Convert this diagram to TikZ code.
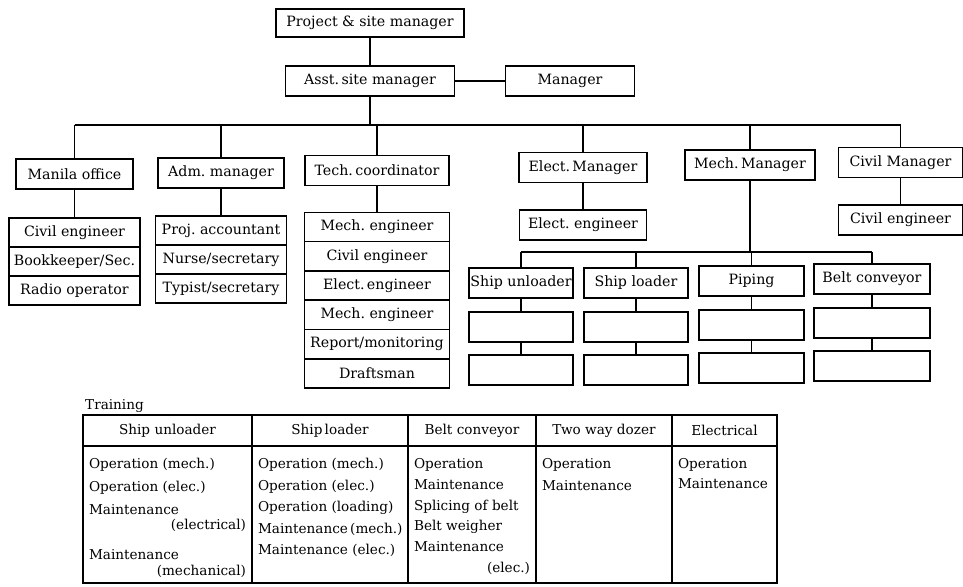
\documentclass[tikz,border=0pt]{standalone}
\usepackage{tikz}
\usepackage{fontspec}
\setmainfont{DejaVu Serif}
\usetikzlibrary{positioning}
\newcommand{\treefont}{\fontsize{14.2}{17}\selectfont}
\newcommand{\tabfont}{\fontsize{13.6}{16}\selectfont}
\newcommand{\tabbody}[3]{\parbox[c][124pt][t]{#1}{\fontsize{13.6}{#2}\selectfont
  \raggedright\rule{0pt}{16pt}#3}}
\tikzset{
  unit/.style={rectangle,draw,line width=1.6pt,inner sep=1pt,outer sep=0pt,
               minimum width=#1,minimum height=30pt,font=\treefont},
  unit/.default=120pt,
  slot/.style={unit=#1,minimum height=29pt},
  link/.style={line width=1.4pt},
  cellhead/.style={rectangle,draw,line width=1.6pt,outer sep=0pt,
                   minimum width=#1,minimum height=31pt,font=\tabfont},
  cellbody/.style={rectangle,draw,line width=1.6pt,outer sep=0pt,
                   inner xsep=6pt,inner ysep=6.5pt},
}
\begin{document}
\begin{tikzpicture}[x=1pt,y=-1pt,node distance=0pt]
  \useasboundingbox (0,0) rectangle (963,586);

  % top of the chart
  \node[unit=188pt,minimum height=28pt] (proj) at (370,23) {Project \& site manager};
  \node[unit=169pt] (asst) at (370,81) {Asst.\,site manager};
  \node[unit=129pt] (mgr) at (570,81) {Manager};

  % second level
  \node[unit=117pt] (manila) at (74.5,174) {Manila office};
  \node[unit=126pt] (adm) at (221,173) {Adm.\ manager};
  \node[unit=144pt] (tech) at (377,170.5) {Tech.\,coordinator};
  \node[unit=128pt] (elec) at (583,167.5) {Elect.\,Manager};
  \node[unit=130pt] (mech) at (750,165) {Mech.\,Manager};
  \node[unit=124pt] (civil) at (900.5,162.5) {Civil Manager};

  \coordinate (bus) at (0,125);
  \draw[link] (asst.east) -- (mgr.west);
  \draw[link] (asst) -- (asst |- bus);
  \draw[link] (manila.north |- bus) -- (civil.north |- bus);
  \foreach \n in {manila,adm,tech,elec,mech,civil}
    \draw[link] (\n.north |- bus) -- (\n.north);

  % staff lists
  \node[slot=131pt] (m1) at (74.5,232.5) {Civil engineer};
  \node[slot=131pt,below=of m1] (m2) {Bookkeeper/Sec.};
  \node[slot=131pt,below=of m2] (m3) {Radio operator};

  \node[slot=131pt] (a1) at (221,230.5) {Proj.\ accountant};
  \node[slot=131pt,below=of a1] (a2) {Nurse/secretary};
  \node[slot=131pt,below=of a2] (a3) {Typist/secretary};

  \node[slot=145pt,minimum height=29.3pt] (t1) at (377,227) {Mech.\ engineer};
  \node[slot=145pt,minimum height=29.3pt,below=of t1] (t2) {Civil engineer};
  \node[slot=145pt,minimum height=29.3pt,below=of t2] (t3) {Elect.\,engineer};
  \node[slot=145pt,minimum height=29.3pt,below=of t3] (t4) {Mech.\ engineer};
  \node[slot=145pt,minimum height=29.3pt,below=of t4] (t5) {Report/monitoring};
  \node[slot=145pt,minimum height=29.3pt,below=of t5] (t6) {Draftsman};

  \node[unit=127pt] (ee) at (583,225) {Elect.\ engineer};
  \node[unit=124pt] (ce) at (900.5,220) {Civil engineer};

  \foreach \a/\b in {proj/asst,manila/m1,adm/a1,tech/t1,elec/ee,civil/ce}
    \draw[link] (\a) -- (\b);

  % mechanical groups
  \coordinate (sub) at (0,252);
  \node[unit=104pt] (su) at (521,283) {Ship unloader};
  \node[unit=104pt] (sl) at (636,283) {Ship loader};
  \node[unit=105pt] (pip) at (751.5,281) {Piping};
  \node[unit=116pt] (bc) at (872,279) {Belt conveyor};
  \draw[link] (mech) -- (mech |- sub);
  \draw[link] (su.north |- sub) -- (bc.north |- sub);
  \foreach \c/\w in {su/104pt,sl/104pt,pip/105pt,bc/116pt} {
    \draw[link] (\c.north |- sub) -- (\c.north);
    \node[unit=\w,below=14pt of \c] (\c1) {};
    \node[unit=\w,below=13pt of \c1] (\c2) {};
    \draw[link] (\c) -- (\c1);
    \draw[link] (\c1) -- (\c2);
  }

  % training table
  \node[font=\tabfont,inner sep=0pt,anchor=base west] (train) at (85,409.5) {Training};

  \node[cellhead=169pt,anchor=north west] (h1) at (83,415) {Ship unloader};
  \node[cellhead=156pt,right=of h1] (h2) {Ship\,loader};
  \node[cellhead=128pt,right=of h2] (h3) {Belt conveyor};
  \node[cellhead=136pt,right=of h3] (h4) {Two way dozer};
  \node[cellhead=105pt,right=of h4] (h5) {Electrical};

  \node[cellbody,below=of h1] (b1) {\tabbody{157pt}{23pt}{Operation (mech.)\\
    Operation (elec.)\\Maintenance\\[-8pt]\hspace*{\fill}(electrical)\\[7pt]
    Maintenance\\[-7pt]\hspace*{\fill}(mechanical)}};
  \node[cellbody,below=of h2] (b2) {\tabbody{144pt}{21.5pt}{Operation (mech.)\\
    Operation (elec.)\\Operation (loading)\\Maintenance\,(mech.)\\
    Maintenance (elec.)}};
  \node[cellbody,below=of h3] (b3) {\tabbody{116pt}{20.8pt}{Operation\\
    Maintenance\\Splicing of belt\\Belt weigher\\Maintenance\\
    \hspace*{\fill}(elec.)}};
  \node[cellbody,below=of h4] (b4) {\tabbody{124pt}{22pt}{Operation\\
    Maintenance}};
  \node[cellbody,below=of h5] (b5) {\tabbody{93pt}{20pt}{Operation\\
    Maintenance}};

\end{tikzpicture}
\end{document}
